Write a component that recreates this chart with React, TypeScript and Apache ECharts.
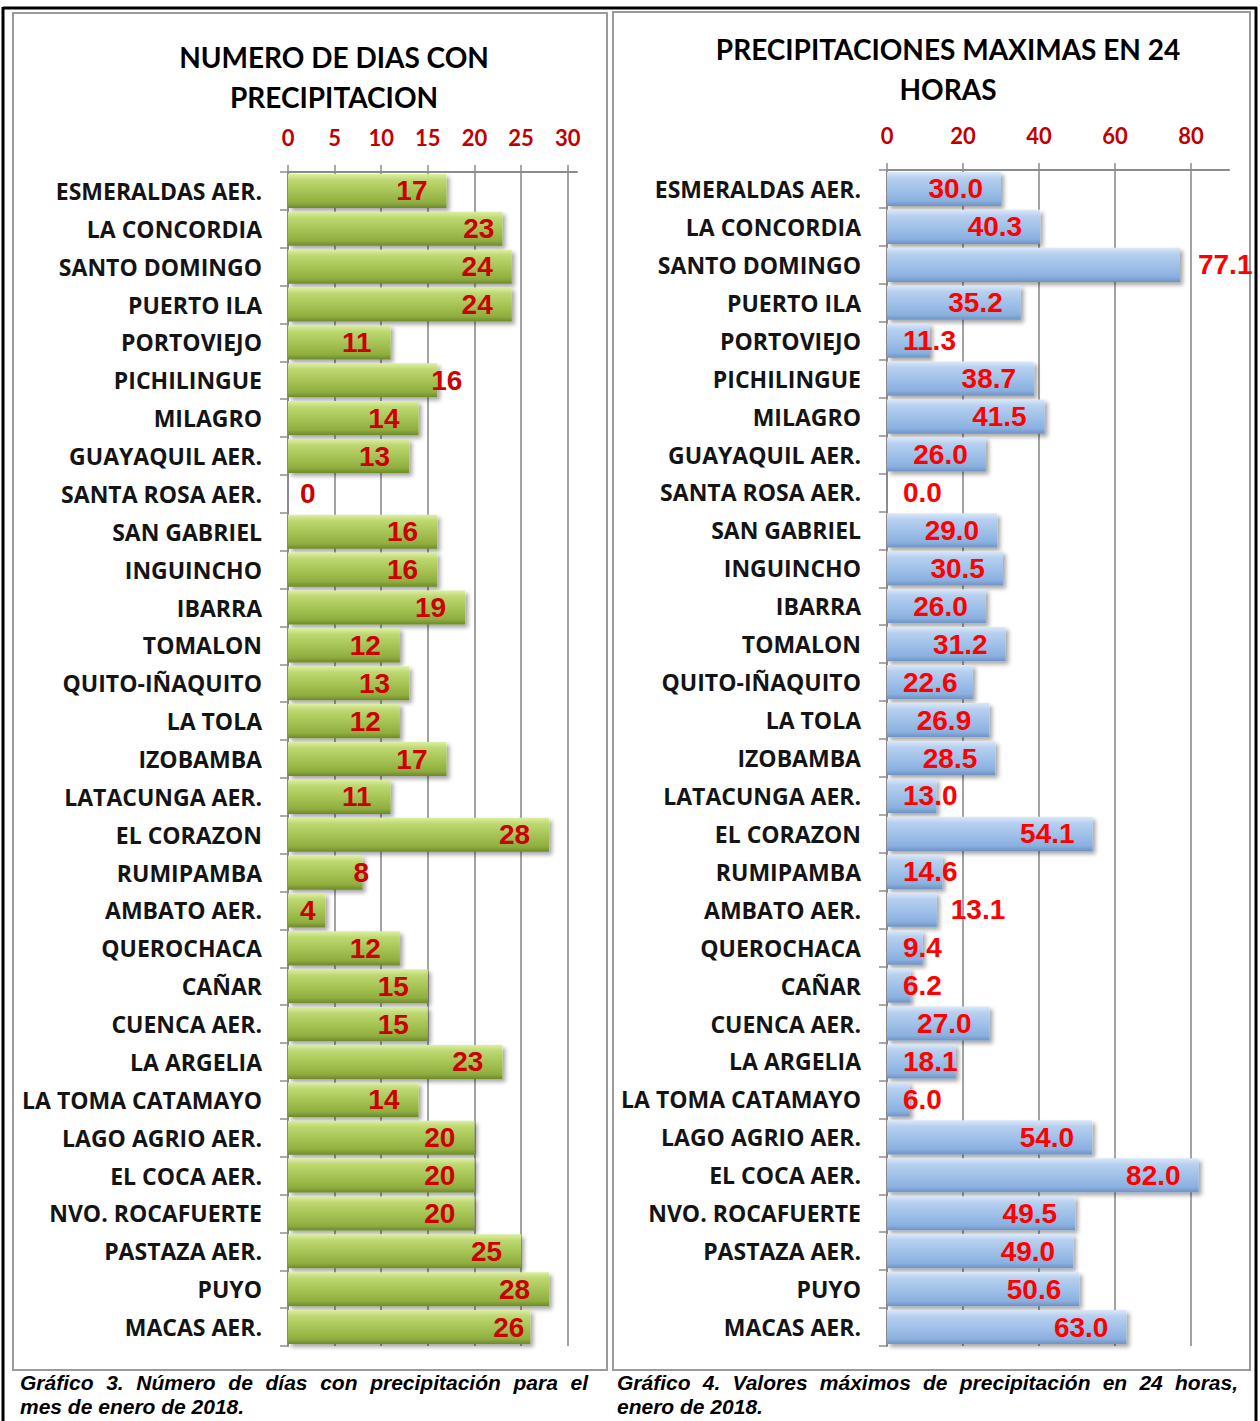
import React, { useEffect, useRef } from "react";
import * as echarts from "echarts";

const stations = [
  "ESMERALDAS AER.", "LA CONCORDIA", "SANTO DOMINGO", "PUERTO ILA", "PORTOVIEJO",
  "PICHILINGUE", "MILAGRO", "GUAYAQUIL AER.", "SANTA ROSA AER.", "SAN GABRIEL",
  "INGUINCHO", "IBARRA", "TOMALON", "QUITO-IÑAQUITO", "LA TOLA", "IZOBAMBA",
  "LATACUNGA AER.", "EL CORAZON", "RUMIPAMBA", "AMBATO AER.", "QUEROCHACA",
  "CAÑAR", "CUENCA AER.", "LA ARGELIA", "LA TOMA CATAMAYO", "LAGO AGRIO AER.",
  "EL COCA AER.", "NVO. ROCAFUERTE", "PASTAZA AER.", "PUYO", "MACAS AER.",
];
const rainDays = [17, 23, 24, 24, 11, 16, 14, 13, 0, 16, 16, 19, 12, 13, 12, 17, 11, 28, 8, 4, 12, 15, 15, 23, 14, 20, 20, 20, 25, 28, 26];
const maxRain24h = [30.0, 40.3, 77.1, 35.2, 11.3, 38.7, 41.5, 26.0, 0.0, 29.0, 30.5, 26.0, 31.2, 22.6, 26.9, 28.5, 13.0, 54.1, 14.6, 13.1, 9.4, 6.2, 27.0, 18.1, 6.0, 54.0, 82.0, 49.5, 49.0, 50.6, 63.0];
const daysTicks = [0, 5, 10, 15, 20, 25, 30];
const rainTicks = [0, 20, 40, 60, 80];

const title1 = "NUMERO DE DIAS CON\nPRECIPITACION";
const title2 = "PRECIPITACIONES MAXIMAS EN 24\nHORAS";
const caption1 = ["Gráfico 3. Número de días con precipitación para el", "mes de enero de 2018."];
const caption2 = ["Gráfico 4. Valores máximos de precipitación en 24 horas,", "enero de 2018."];

// manual label placements (as moved in the original)
const leftLabelOverrides: Record<number, any> = {
  1: { position: "insideRight", distance: 8 },
  5: { position: "right", distance: -6 },
  18: { position: "right", distance: -9 },
  30: { position: "insideRight", distance: 6 },
};
const rightLabelOverrides: Record<number, any> = {
  2: { position: "right", distance: 18 },
  19: { position: "right", distance: 14 },
};

const LABEL_FONT = '"Liberation Sans", Arial, sans-serif';
const CAT_FONT = '"Open Sans", "DejaVu Sans", sans-serif';
const TITLE_FONT = 'Lato, "Open Sans", sans-serif';
const CAP_FONT_CSS = 'italic bold 21px "Liberation Sans"';

function justifiedLine(text: string, x0: number, x1: number, y: number) {
  const canvas = document.createElement("canvas");
  const ctx = canvas.getContext("2d")!;
  ctx.font = CAP_FONT_CSS;
  const words = text.split(" ");
  const widths = words.map((w) => ctx.measureText(w).width);
  const total = widths.reduce((a, b) => a + b, 0);
  const gap = (x1 - x0 - total) / (words.length - 1);
  const out: any[] = [];
  let x = x0;
  words.forEach((w, i) => {
    out.push({
      type: "text",
      x,
      y,
      style: { text: w, font: CAP_FONT_CSS, fill: "#000", textVerticalAlign: "middle" },
    });
    x += widths[i] + gap;
  });
  return out;
}

function plainLine(text: string, x: number, y: number) {
  return {
    type: "text",
    x,
    y,
    style: { text, font: CAP_FONT_CSS, fill: "#000", textVerticalAlign: "middle" },
  };
}

const greenGrad = () =>
  new echarts.graphic.LinearGradient(0, 0, 0, 1, [
    { offset: 0, color: "#dcefa3" },
    { offset: 0.18, color: "#bdd870" },
    { offset: 0.55, color: "#a3c252" },
    { offset: 0.85, color: "#8fae3f" },
    { offset: 1, color: "#6c8a2a" },
  ]);
const blueGrad = () =>
  new echarts.graphic.LinearGradient(0, 0, 0, 1, [
    { offset: 0, color: "#dbe8f8" },
    { offset: 0.18, color: "#b7d0f0" },
    { offset: 0.55, color: "#9dbfe8" },
    { offset: 0.85, color: "#8bb0df" },
    { offset: 1, color: "#6d93c4" },
  ]);

export default function App() {
  const ref = useRef<HTMLDivElement>(null);
  useEffect(() => {
    document.body.style.margin = "0";
    const chart = echarts.init(ref.current!, null, { renderer: "svg" });

    const leftData = rainDays.map((v, i) => {
      let label: any = v < 7 ? { position: "insideLeft", distance: 12 } : { position: "insideRight", distance: 19 };
      if (leftLabelOverrides[i]) label = leftLabelOverrides[i];
      return { value: v, label };
    });
    const rightData = maxRain24h.map((v, i) => {
      let label: any = v < 24 ? { position: "insideLeft", distance: 16 } : { position: "insideRight", distance: 18 };
      if (rightLabelOverrides[i]) label = rightLabelOverrides[i];
      return { value: v, label };
    });

    const axisGray = "#8c8c8c";
    const gridGray = "#a3a3a3";

    const valueAxisCommon = (min: number, max: number, interval: number, ticks: number[]) => ({
      type: "value",
      position: "top",
      min,
      max,
      interval,
      axisLine: { show: true, lineStyle: { color: axisGray, width: 2 } },
      axisTick: { show: true, length: 7, customValues: ticks, lineStyle: { color: axisGray, width: 1.5 } },
      axisLabel: {
        customValues: ticks,
        color: "#c00000",
        fontFamily: TITLE_FONT,
        fontWeight: "bold",
        fontSize: 22,
        margin: 24,
      },
      splitLine: { show: true, showMinLine: false, lineStyle: { color: gridGray, width: 2 } },
    });

    const catAxisCommon = {
      type: "category",
      data: stations,
      inverse: true,
      axisLine: { show: true, lineStyle: { color: axisGray, width: 2 } },
      axisTick: { show: true, length: 8, lineStyle: { color: axisGray, width: 1.5 } },
      axisLabel: {
        color: "#141414",
        fontFamily: CAT_FONT,
        fontWeight: "bold",
        fontSize: 23,
        margin: 26,
      },
      splitLine: { show: false },
    };

    const barLabelCommon = {
      show: true,
      fontFamily: LABEL_FONT,
      fontWeight: "bold",
      fontSize: 28,
    };

    const graphics: any[] = [
      { type: "line", shape: { x1: 3, y1: 8, x2: 1257, y2: 8 }, style: { stroke: "#000", lineWidth: 3 } },
      { type: "line", shape: { x1: 3, y1: 7, x2: 3, y2: 1421 }, style: { stroke: "#000", lineWidth: 3 } },
      { type: "line", shape: { x1: 1256, y1: 7, x2: 1256, y2: 1421 }, style: { stroke: "#000", lineWidth: 3 } },
      { type: "rect", shape: { x: 13, y: 13, width: 594, height: 1357 }, style: { fill: "none", stroke: "#9a9a9a", lineWidth: 2 }, z: -1 },
      { type: "rect", shape: { x: 613, y: 12, width: 637, height: 1358 }, style: { fill: "none", stroke: "#9a9a9a", lineWidth: 2 }, z: -1 },
      {
        type: "text", x: 334, y: 77,
        style: { text: title1, textAlign: "center", textVerticalAlign: "middle", font: `bold 28px ${TITLE_FONT}`, lineHeight: 40, fill: "#000" },
      },
      {
        type: "text", x: 948, y: 69,
        style: { text: title2, textAlign: "center", textVerticalAlign: "middle", font: `bold 28px ${TITLE_FONT}`, lineHeight: 40, fill: "#000" },
      },
      ...justifiedLine(caption1[0], 20, 588, 1382),
      plainLine(caption1[1], 20, 1406),
      ...justifiedLine(caption2[0], 617, 1238, 1382),
      plainLine(caption2[1], 617, 1406),
    ];

    chart.setOption({
      animation: false,
      backgroundColor: "#fff",
      grid: [
        { left: 288, top: 172, width: 289, height: 1174 },
        { left: 887, top: 170, width: 342, height: 1176 },
      ],
      xAxis: [
        { gridIndex: 0, ...valueAxisCommon(0, 31, 5, daysTicks) },
        { gridIndex: 1, ...valueAxisCommon(0, 90, 20, rainTicks) },
      ],
      yAxis: [
        { gridIndex: 0, ...catAxisCommon },
        { gridIndex: 1, ...catAxisCommon },
      ],
      series: [
        {
          type: "bar",
          xAxisIndex: 0,
          yAxisIndex: 0,
          data: leftData,
          barCategoryGap: "10%",
          itemStyle: {
            color: greenGrad(),
            shadowBlur: 4,
            shadowOffsetX: 3,
            shadowOffsetY: 3,
            shadowColor: "rgba(0,0,0,0.35)",
          },
          label: { ...barLabelCommon, color: "#cc0000", formatter: (p: any) => String(p.value) },
        },
        {
          type: "bar",
          xAxisIndex: 1,
          yAxisIndex: 1,
          data: rightData,
          barCategoryGap: "10%",
          itemStyle: {
            color: blueGrad(),
            shadowBlur: 4,
            shadowOffsetX: 3,
            shadowOffsetY: 3,
            shadowColor: "rgba(0,0,0,0.35)",
          },
          label: { ...barLabelCommon, color: "#ff0000", formatter: (p: any) => Number(p.value).toFixed(1) },
        },
      ],
      graphic: graphics,
    });
    return () => chart.dispose();
  }, []);
  return <div ref={ref} style={{ width: 1260, height: 1421, background: "#fff" }} />;
}
